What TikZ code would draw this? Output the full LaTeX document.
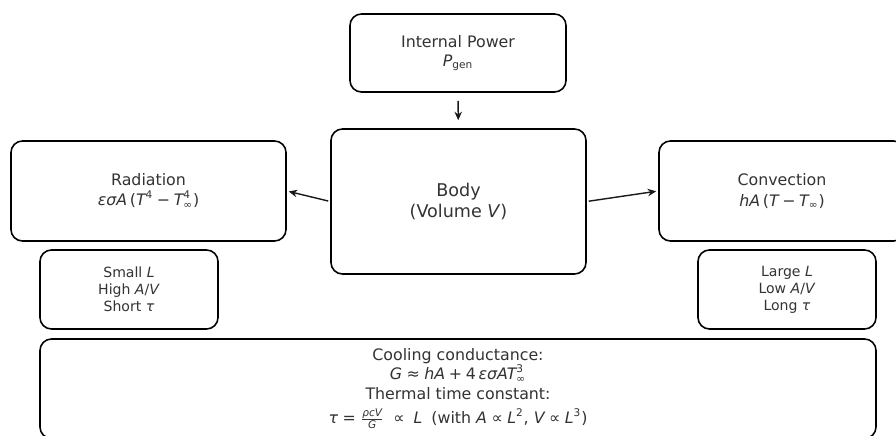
\documentclass[tikz,border=0pt]{standalone}
\usepackage{amsmath}
\usepackage{fontspec}
\setmainfont{DejaVu Sans}
\usepackage{xcolor}
\usepackage{tikz}
\usetikzlibrary{positioning,arrows.meta}

\definecolor{inkgray}{HTML}{333333}
% italic letters and upright bits inside math, both in DejaVu Sans
\newcommand{\vi}[1]{\text{\itshape #1}}
\newcommand{\up}[1]{\text{#1}}

\begin{document}
\begin{tikzpicture}[
 block/.style={draw=black,line width=0.9pt,rounded corners=6.5pt,text=inkgray,align=center,inner sep=0pt},
 note/.style={block,font=\fontsize{8}{9.6}\selectfont},
 arr/.style={-{Stealth[length=1.7mm,width=1.5mm,fill=orange!75!black]},draw=black!90,line width=0.8pt,shorten <=0.04cm,shorten >=0.04cm},
 font=\fontsize{9}{10.8}\selectfont]
\clip (0,0) rectangle (17.92,8.72);
\fill[white] (0,0) rectangle (17.92,8.72);
% top: heat source
\node[block,minimum width=4.32cm,minimum height=1.56cm] (power) at (9.16,7.66)
 {Internal Power\\$\vi{P}_{\up{gen}}$};
% middle row
\node[block,minimum width=5.10cm,minimum height=2.90cm,font=\fontsize{10}{11.8}\selectfont] (body) at (9.17,4.69)
 {Body\\(Volume \textit{V})};
\node[block,minimum width=5.50cm,minimum height=2.00cm] (rad) at (2.97,4.90)
 {Radiation\\[1pt]$\vi{εσA}\,\up{(}\vi{T}^{\up{4}}\mathbin{\up{−}}\vi{T}^{\up{4}}_{\up{∞}}\up{)}$};
\node[block,minimum width=4.92cm,minimum height=2.00cm] (conv) at (15.64,4.90)
 {Convection\\[1pt]$\vi{hA}\,\up{(}\vi{T}\mathbin{\up{−}}\vi{T}_{\up{∞}}\up{)}$};
% size regimes
\node[note,minimum width=3.56cm,minimum height=1.58cm] (small) at (2.58,2.93)
 {Small \textit{L}\\High \textit{A}/\textit{V}\\Short \textit{τ}};
\node[note,minimum width=3.56cm,minimum height=1.58cm] (large) at (15.74,2.93)
 {Large \textit{L}\\Low \textit{A}/\textit{V}\\Long \textit{τ}};
% summary
\node[block,minimum width=16.72cm,minimum height=1.99cm] (summary) at (9.16,0.945)
 {Cooling conductance:\\
  $\vi{G}\mathrel{\up{≈}}\vi{hA}\mathbin{\up{+}}\up{4}\,\vi{εσAT}^{\up{3}}_{\up{∞}}$\\[0.5pt]
  Thermal time constant:\\[3pt]
  $\vi{τ}\mathrel{\up{=}}\frac{\vi{ρcV}}{\vi{G}}\;\mathrel{\up{∝}}\;\vi{L}\;\;\up{(with }\vi{A}\mathrel{\up{∝}}\vi{L}^{\up{2}}\up{, }\vi{V}\mathrel{\up{∝}}\vi{L}^{\up{3}}\up{)}$};
\draw[arr,shorten <=0.16cm,shorten >=0.16cm] (power) -- (body);
\draw[arr] (body.west) -- (rad.east);
\draw[arr] (body.east) -- (conv.west);
\end{tikzpicture}
\end{document}
